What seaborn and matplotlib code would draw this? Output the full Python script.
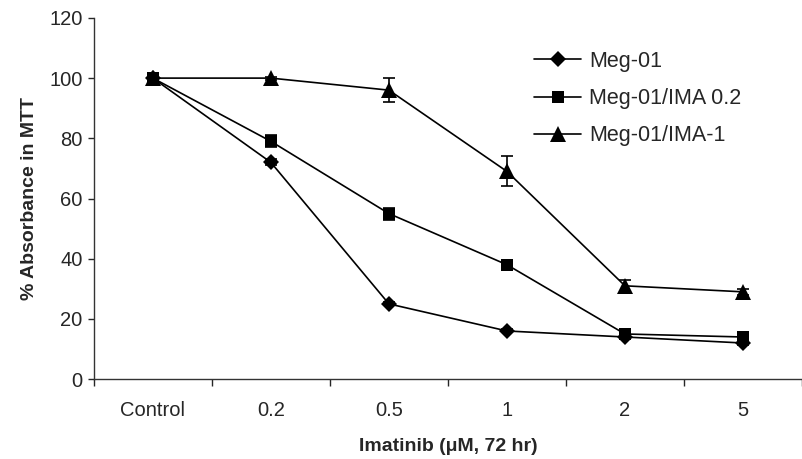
import numpy as np
import pandas as pd
import matplotlib
matplotlib.use("Agg")
import matplotlib.pyplot as plt
import seaborn as sns

# Data
doses = ['Control', '0.2', '0.5', '1', '2', '5']
meg01 = [100, 72, 25, 16, 14, 12]
meg01_err = [1, 1, 0.5, 0.5, 0.5, 0.5]
ima02 = [100, 79, 55, 38, 15, 14]
ima02_err = [1, 2, 2, 1, 1, 0.5]
ima1 = [100, 100, 96, 69, 31, 29]
ima1_err = [1, 0.5, 4, 5, 2, 1]

series = {
    'Meg-01': (meg01, meg01_err, 'D', 8.5),
    'Meg-01/IMA 0.2': (ima02, ima02_err, 's', 8.5),
    'Meg-01/IMA-1': (ima1, ima1_err, '^', 11),
}

sns.set_style("ticks")
plt.rcParams['font.family'] = ['Liberation Sans', 'DejaVu Sans']

fig = plt.figure(figsize=(8.02, 4.59), dpi=100)
ax = fig.add_axes([0.117, 0.174, 0.883, 0.787])

x = np.arange(len(doses))
rows = []
for name, (vals, errs, mk, ms) in series.items():
    for i, (v, e) in enumerate(zip(vals, errs)):
        rows.append({'x': x[i], 'value': v, 'err': e, 'series': name})
df = pd.DataFrame(rows)

markers = {k: v[2] for k, v in series.items()}
sns.lineplot(data=df, x='x', y='value', hue='series', style='series',
             markers=markers, dashes=False, palette=['black'] * 3,
             markersize=8, linewidth=1.2, markeredgewidth=0,
             ax=ax, legend=True)

for name, (vals, errs, mk, ms) in series.items():
    ax.errorbar(x, vals, yerr=errs, fmt='none', ecolor='black',
                elinewidth=1.2, capsize=4.5, capthick=1.2)

# resize markers per series
for line, (name, (vals, errs, mk, ms)) in zip(ax.lines[:3], series.items()):
    line.set_markersize(ms)
    line.set_markeredgewidth(0)

ax.set_xlim(-0.5, len(doses) - 0.5)
ax.set_ylim(0, 120)
ax.set_yticks(np.arange(0, 121, 20))
ax.set_xticks(np.arange(-0.5, len(doses), 1.0))
ax.set_xticklabels([])
ax.set_xticks(x, minor=True)
ax.set_xticklabels(doses, minor=True)
ax.tick_params(axis='x', which='major', length=5, direction='out', width=1)
ax.tick_params(axis='x', which='minor', length=0, pad=16, labelsize=14.5)
ax.tick_params(axis='y', length=4, width=1, labelsize=14.5, pad=4)

for s in ['top', 'right']:
    ax.spines[s].set_visible(False)
for s in ['left', 'bottom']:
    ax.spines[s].set_linewidth(1)
    ax.spines[s].set_color('#333333')

ax.set_xlabel('Imatinib (μM, 72 hr)', fontsize=14, fontweight='bold', labelpad=13)
ax.set_ylabel('% Absorbance in MTT', fontsize=14, fontweight='bold', labelpad=8)

handles, labels = ax.get_legend_handles_labels()
ax.get_legend().remove()
for h, (name, (vals, errs, mk, ms)) in zip(handles, series.items()):
    h.set_markersize(ms)
    h.set_markeredgewidth(0)
leg = fig.legend(handles, labels, loc='upper left',
                 bbox_to_anchor=(534 / 802, 1 - 51 / 459),
                 frameon=False, fontsize=15.5, handlelength=2.2,
                 handletextpad=0.37, labelspacing=0.75,
                 borderpad=0, borderaxespad=0)

fig.savefig('out.png', dpi=100)
